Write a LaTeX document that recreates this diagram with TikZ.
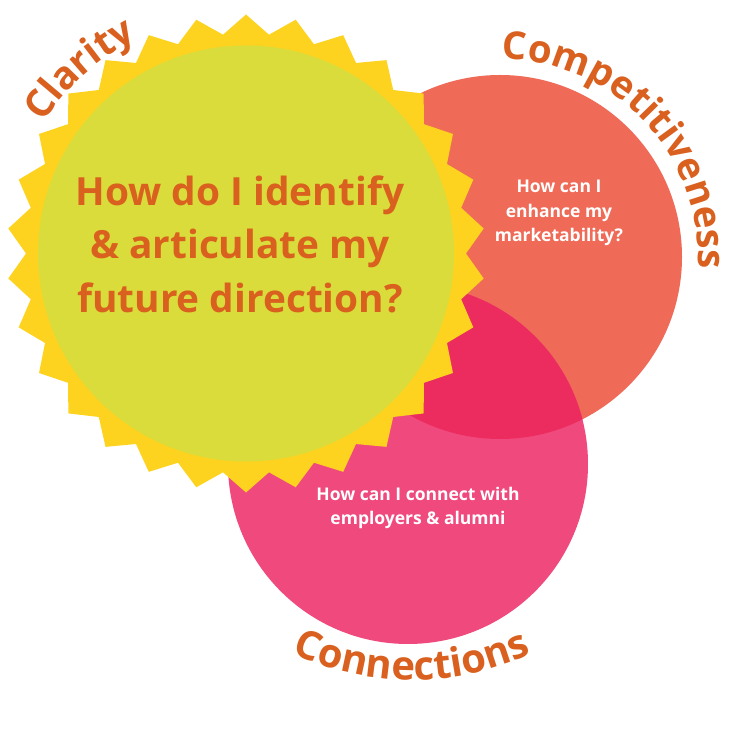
\documentclass[tikz,border=0pt]{standalone}
\usepackage{fontspec}
\setmainfont{Open Sans}
\usetikzlibrary{decorations.text}
\definecolor{sunyellow}{HTML}{FDD31F}
\definecolor{limegreen}{HTML}{D9DC3B}
\definecolor{coralred}{HTML}{EF6A57}
\definecolor{rosepink}{HTML}{F0497E}
\definecolor{deeprose}{HTML}{EC2C5E}
\definecolor{labelorange}{HTML}{D9601E}
\newcommand\curvefont{\bfseries\fontsize{40}{40}\selectfont}
\newcommand\curvefontsm{\bfseries\fontsize{38.5}{38.5}\selectfont}
\begin{document}
\begin{tikzpicture}[x=1pt,y=1pt,
  bigq/.style={font=\bfseries\fontsize{38.8}{46}\selectfont, text=labelorange, anchor=base, inner sep=0pt},
  smallq/.style={font=\bfseries\fontsize{17.5}{21}\selectfont, text=white, anchor=base, inner sep=0pt}]
\fill[white] (0,0) rectangle (750,750);
\useasboundingbox (0,0) rectangle (750,750);

\coordinate (sunc) at (246,496.5);
\coordinate (coralc) at (500,493);
\coordinate (rosec) at (408,286);
\coordinate (connc) at (412,355);

% coral and rose circles
\fill[coralred] (coralc) circle[radius=182];
\fill[rosepink] (rosec) circle[radius=180];
\begin{scope}
  \clip (rosec) circle[radius=180];
  \fill[deeprose] (coralc) circle[radius=182];
\end{scope}

% starburst
\begin{scope}[shift={(sunc)}]
  \fill[sunyellow] (90:239) \foreach \k in {0,...,29} { -- ({96+12*\k}:220) -- ({102+12*\k}:239) } -- cycle;
\end{scope}
\fill[limegreen] (sunc) circle[radius=208];

% texts
\node[bigq] (q1a) at (240,544) {How do I identify};
\node[bigq] (q1b) at (240,491) {\& articulate my};
\node[bigq] (q1c) at (240,437) {future direction?};

\node[smallq] (q2a) at (559,557) {How can I};
\node[smallq] (q2b) at (559,532.5) {enhance my};
\node[smallq] (q2c) at (559,508) {marketability?};

\node[smallq] (q3a) at (418,249.3) {How can I connect with};
\node[smallq] (q3b) at (418,225.7) {employers \& alumni};

% curved labels
\path[decorate, decoration={text along path, text align=center, text color=labelorange, text={|\curvefontsm|Clarity}}]
  (sunc) ++(172:241) arc[start angle=172, end angle=92, radius=241];
\path[decorate, decoration={text along path, text align=center, text color=labelorange, text={|\curvefontsm|Competitiveness}}]
  (coralc) ++(93:198) arc[start angle=93, end angle=-7, radius=198];
\path[decorate, decoration={text along path, text align=center, text color=labelorange, text={|\curvefont|Connections}}]
  (connc) ++(240:285) arc[start angle=240, end angle=300, radius=285];
\end{tikzpicture}
\end{document}
